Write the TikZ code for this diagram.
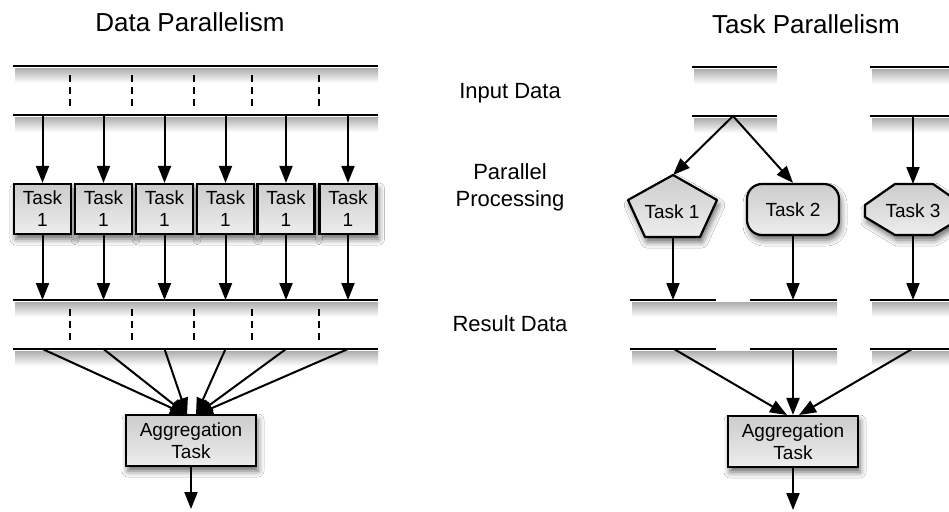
\documentclass[tikz,border=0pt]{standalone}
\usepackage{fontspec}
\setmainfont{Liberation Sans}
\usetikzlibrary{arrows.meta,shadows.blur}
\begin{document}
\begin{tikzpicture}[x=1pt,y=-1pt,
  bar/.style={line width=2.4pt},
  dots/.style={line width=2.2pt, dash pattern=on 7pt off 5pt},
  arr/.style={line width=2pt, draw=black,
      -{Triangle[length=17pt,width=13pt,fill=black]}},
  soft/.style={blur shadow={shadow xshift=2pt, shadow yshift=-5pt,
      shadow blur radius=6pt, shadow opacity=60}},
  boxfill/.style={top color=gray!40, bottom color=gray!14},
  taskbox/.style={draw, line width=2.2pt, boxfill, soft, inner sep=0pt,
      minimum width=57pt, minimum height=50pt, align=center,
      font=\fontsize{19}{22}\selectfont},
  aggbox/.style={taskbox, minimum width=130pt, minimum height=51pt},
  label/.style={font=\fontsize{22}{27}\selectfont, align=center},
  title/.style={font=\fontsize{26}{30}\selectfont, anchor=base},
  lineshadow/.style={top color=black!32, bottom color=white, draw=none},
]
\useasboundingbox (0,0) rectangle (949,511);
\clip (0,0) rectangle (949,511);
\fill[white] (0,0) rectangle (949,511);

% ---------- titles and row labels ----------
\node[title] (tdata) at (190,32) {Data Parallelism};
\node[title] (ttask) at (806,34) {Task Parallelism};
\node[label, anchor=base] (linput) at (510,98) {Input Data};
\node[label, anchor=base] (lpar) at (510,206) {Parallel\\Processing};
\node[label, anchor=base] (lres) at (510,331) {Result Data};

% ---------- soft shadows under the data bars ----------
\foreach \y in {66,115,300,349} {
  \shade[lineshadow] (15,\y+2) rectangle (378,\y+17);
}
\foreach \y in {67,116,300,349} {
  \shade[lineshadow] (694,\y+2) rectangle (777,\y+17);
  \shade[lineshadow] (872,\y+2) rectangle (960,\y+17);
}
\foreach \y in {300,349} {
  \shade[lineshadow] (632,\y+2) rectangle (716,\y+17);
  \shade[lineshadow] (752,\y+2) rectangle (837,\y+17);
}

% ================= Data parallelism =================
\coordinate (resL) at (0,300);
\draw[bar] (13,66) -- (378,66);
\draw[bar] (13,115) -- (378,115);
\draw[bar] (13,300) -- (378,300);
\draw[bar] (13,349) -- (378,349);
\foreach \x in {70,132,194,252,319} {
  \draw[dots] (\x,75) -- (\x,108);
  \draw[dots] (\x,309) -- (\x,342);
}

\node[aggbox] (aggL) at (191,440.5) {Aggregation\\Task};
\coordinate (aggLl) at (187,415);
\coordinate (aggLr) at (196,415);
\coordinate (outL) at (191,509);

\foreach \n/\x in {1/42.5,2/103.5,3/164.5,4/225.5,5/286,6/348} {
  \node[taskbox] (b\n) at (\x,209) {Task\\1};
  \coordinate (in\n) at (\x,115);
  \coordinate (rb\n) at (\x,349);
  \draw[arr] (in\n) -- (b\n.north);
  \draw[arr] (b\n.south) -- (b\n.south |- resL);
}
\foreach \n in {1,2,3} \draw[arr] (rb\n) -- (aggLl);
\foreach \n in {4,5,6} \draw[arr] (rb\n) -- (aggLr);
\draw[arr] (aggL.south) -- (outL);

% ================= Task parallelism =================
\coordinate (resR) at (0,300);
\draw[bar] (692,67) -- (777,67);
\draw[bar] (870,67) -- (960,67);
\draw[bar] (692,116) -- (777,116);
\draw[bar] (870,116) -- (960,116);
\draw[bar] (630,300) -- (716,300);
\draw[bar] (750,300) -- (837,300);
\draw[bar] (870,300) -- (960,300);
\draw[bar] (630,349) -- (716,349);
\draw[bar] (750,349) -- (837,349);
\draw[bar] (870,349) -- (960,349);

\coordinate (fork) at (733,116);
\coordinate (in3) at (913,116);

% Task 1: pentagon
\begin{scope}
\draw[line width=2.2pt, boxfill, soft, line join=round]
  (673,175) -- (717,200) -- (700,237) -- (645,237) -- (628,200) -- cycle;
\end{scope}
\coordinate (t1top) at (673,175);
\coordinate (t1bot) at (673,237);
\node[font=\fontsize{19}{22}\selectfont] (t1) at (672,212) {Task 1};

% Task 2: rounded box
\node[taskbox, rounded corners=15pt, minimum width=92pt, minimum height=51pt]
  (t2) at (793,209.5) {Task 2};

% Task 3: octagon
\begin{scope}
\draw[line width=2.2pt, boxfill, soft, line join=round]
  (895,184) -- (933,184) -- (963,205) -- (963,217) -- (933,235) --
  (895,235) -- (865,217) -- (865,205) -- cycle;
\end{scope}
\coordinate (t3top) at (913,184);
\coordinate (t3bot) at (913,235);
\node[font=\fontsize{19}{22}\selectfont] (t3) at (913,211) {Task 3};

\draw[arr] (fork) -- (t1top);
\draw[arr] (fork) -- (t2.north);
\draw[arr] (in3) -- (t3top);
\draw[arr] (t1bot) -- (t1bot |- resR);
\draw[arr] (t2.south) -- (t2.south |- resR);
\draw[arr] (t3bot) -- (t3bot |- resR);

\node[aggbox] (aggR) at (793,441.5) {Aggregation\\Task};
\coordinate (r1) at (674,349);
\coordinate (r2) at (793,349);
\coordinate (r3) at (912,349);
\coordinate (aggRl) at (787,415);
\coordinate (aggRr) at (799,415);
\coordinate (outR) at (793,510);
\draw[arr] (r1) -- (aggRl);
\draw[arr] (r2) -- (aggR.north);
\draw[arr] (r3) -- (aggRr);
\draw[arr] (aggR.south) -- (outR);
\end{tikzpicture}
\end{document}
